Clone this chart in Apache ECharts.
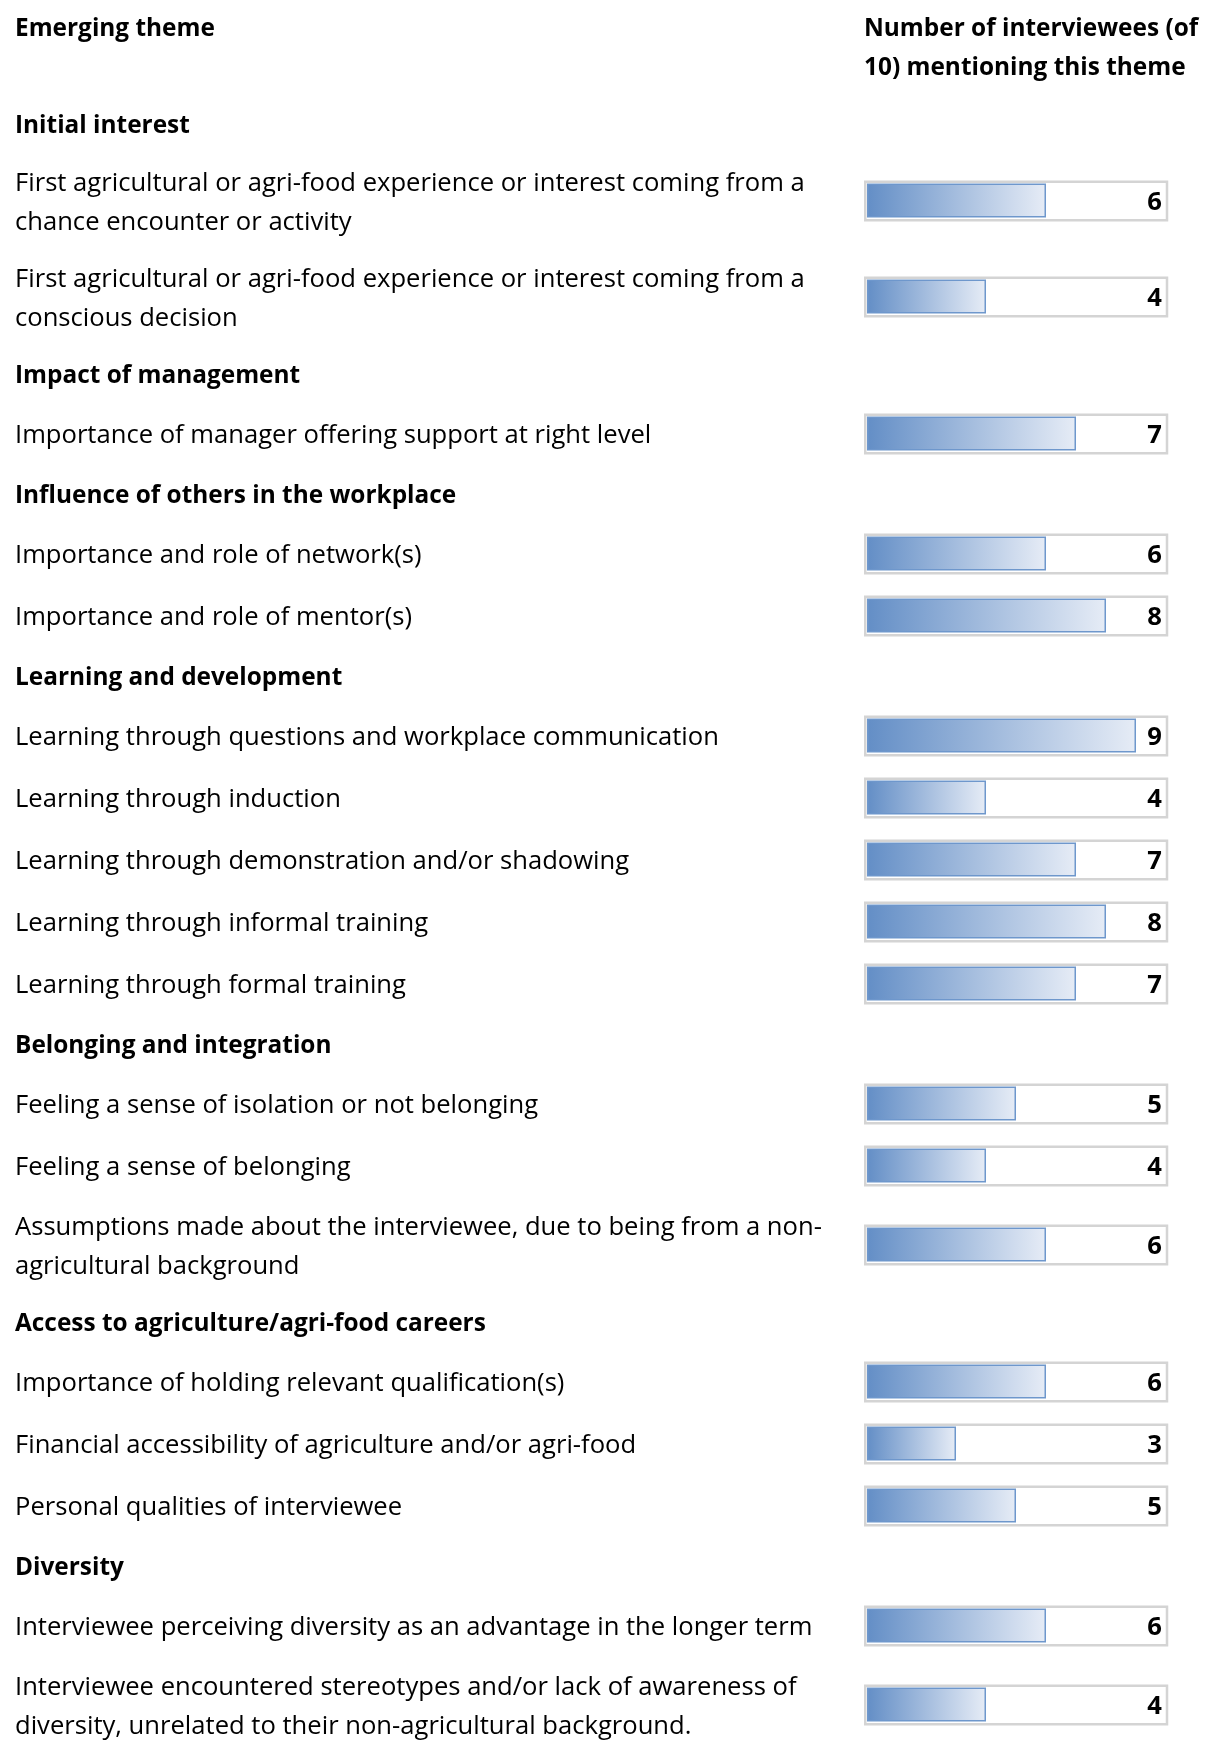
<!DOCTYPE html>
<html>
<head>
<meta charset="utf-8">
<script src="https://cdn.jsdelivr.net/npm/echarts@6/dist/echarts.min.js"></script>
<style>
  html, body { margin: 0; padding: 0; background: #ffffff; }
  #chart { width: 1205px; height: 1740px; }
</style>
</head>
<body>
<div id="chart"></div>
<script>
// Column headings
const headingLeft = 'Emerging theme';
const headingRight = ['Number of interviewees (of', '10) mentioning this theme'];

// Theme groups
const sections = [
  'Initial interest',
  'Impact of management',
  'Influence of others in the workplace',
  'Learning and development',
  'Belonging and integration',
  'Access to agriculture/agri-food careers',
  'Diversity'
];

// Emerging themes (wrapped as they are set in the table)
const themes = [
  'First agricultural or agri-food experience or interest coming from a\nchance encounter or activity',
  'First agricultural or agri-food experience or interest coming from a\nconscious decision',
  'Importance of manager offering support at right level',
  'Importance and role of network(s)',
  'Importance and role of mentor(s)',
  'Learning through questions and workplace communication',
  'Learning through induction',
  'Learning through demonstration and/or shadowing',
  'Learning through informal training',
  'Learning through formal training',
  'Feeling a sense of isolation or not belonging',
  'Feeling a sense of belonging',
  'Assumptions made about the interviewee, due to being from a non-\nagricultural background',
  'Importance of holding relevant qualification(s)',
  'Financial accessibility of agriculture and/or agri-food',
  'Personal qualities of interviewee',
  'Interviewee perceiving diversity as an advantage in the longer term',
  'Interviewee encountered stereotypes and/or lack of awareness of\ndiversity, unrelated to their non-agricultural background.'
];

// Group index of each theme
const themeSection = [0, 0, 1, 2, 2, 3, 3, 3, 3, 3, 4, 4, 4, 5, 5, 5, 6, 6];

// Interviewees (of 10) mentioning each theme
const mentions = [6, 4, 7, 6, 8, 9, 4, 7, 8, 7, 5, 4, 6, 6, 3, 5, 6, 4];

// Scale of the data bars
const scaleMax = 10;

// ---- table layout: row heights stacked from the top ----
const FONT = '"Open Sans", Lato, sans-serif';
const SIZE_REGULAR = 25.6;
const SIZE_BOLD = 24.4;
const PAGE_H = 1740;
const TEXT_X = 15;
const TEXT_DY = 2;
const SECTION_H = 58, ROW_H = 62, ROW2_H = 96, LINE_GAP = 39;

const sectionY = [];
const rowY = [];
let cursor = 95;
sections.forEach(function (name, s) {
  sectionY.push(cursor + SECTION_H / 2);
  cursor += SECTION_H;
  themes.forEach(function (t, i) {
    if (themeSection[i] !== s) return;
    const h = t.indexOf('\n') >= 0 ? ROW2_H : ROW_H;
    rowY[i] = cursor + h / 2;
    cursor += h;
  });
});

// ---- text on the left and the headings ----
const graphics = [];
function addText(str, x, y, bold) {
  graphics.push({
    type: 'text', x: x, y: y + TEXT_DY, silent: true,
    style: {
      text: str, fill: '#000000',
      font: (bold ? 'bold ' + SIZE_BOLD : SIZE_REGULAR) + 'px ' + FONT,
      textAlign: 'left', textVerticalAlign: 'middle'
    }
  });
}
addText(headingLeft, TEXT_X, 27, true);
addText(headingRight[0], 864, 27, true);
addText(headingRight[1], 864, 66, true);
sections.forEach(function (name, s) { addText(name, TEXT_X, sectionY[s], true); });
themes.forEach(function (t, i) {
  const lines = t.split('\n');
  const y0 = rowY[i] - (lines.length - 1) * LINE_GAP / 2;
  lines.forEach(function (ln, k) { addText(ln, TEXT_X, y0 + k * LINE_GAP, false); });
});

// ---- data bars ----
function renderDataBar(params, api) {
  const v = api.value(0);
  const yv = api.value(1);
  const p0 = api.coord([0, yv]);
  const p1 = api.coord([v, yv]);
  const pm = api.coord([scaleMax, yv]);
  const y = p0[1];
  return {
    type: 'group',
    children: [
      { // cell frame
        type: 'rect',
        shape: { x: p0[0] - 0.75, y: y - 19.25, width: pm[0] - p0[0] + 1.75, height: 38.5 },
        style: { fill: '#ffffff', stroke: '#d4d4d4', lineWidth: 2.5 }
      },
      { // gradient bar
        type: 'rect',
        shape: { x: p0[0] + 1.75, y: y - 16.75, width: p1[0] - p0[0] - 2.5, height: 32.5 },
        style: {
          fill: new echarts.graphic.LinearGradient(0, 0, 1, 0, [
            { offset: 0, color: '#638ec6' },
            { offset: 1, color: '#e6ecf6' }
          ]),
          stroke: '#6e97cc', lineWidth: 1.5
        }
      },
      { // value
        type: 'text',
        x: pm[0] - 4, y: y + 1.5,
        style: {
          text: String(v), fill: '#000000',
          font: 'bold ' + SIZE_REGULAR + 'px ' + FONT,
          textAlign: 'right', textVerticalAlign: 'middle'
        }
      }
    ]
  };
}

const chart = echarts.init(document.getElementById('chart'), null, { renderer: 'canvas' });
chart.setOption({
  backgroundColor: '#ffffff',
  animation: false,
  grid: { left: 866, width: 300, top: 0, height: PAGE_H, containLabel: false },
  xAxis: { type: 'value', min: 0, max: scaleMax, show: false },
  yAxis: { type: 'value', min: 0, max: PAGE_H, inverse: true, show: false },
  graphic: graphics,
  series: [{
    type: 'custom',
    clip: false,
    renderItem: renderDataBar,
    encode: { x: 0, y: 1 },
    data: mentions.map(function (m, i) { return [m, rowY[i]]; })
  }]
});
</script>
</body>
</html>
